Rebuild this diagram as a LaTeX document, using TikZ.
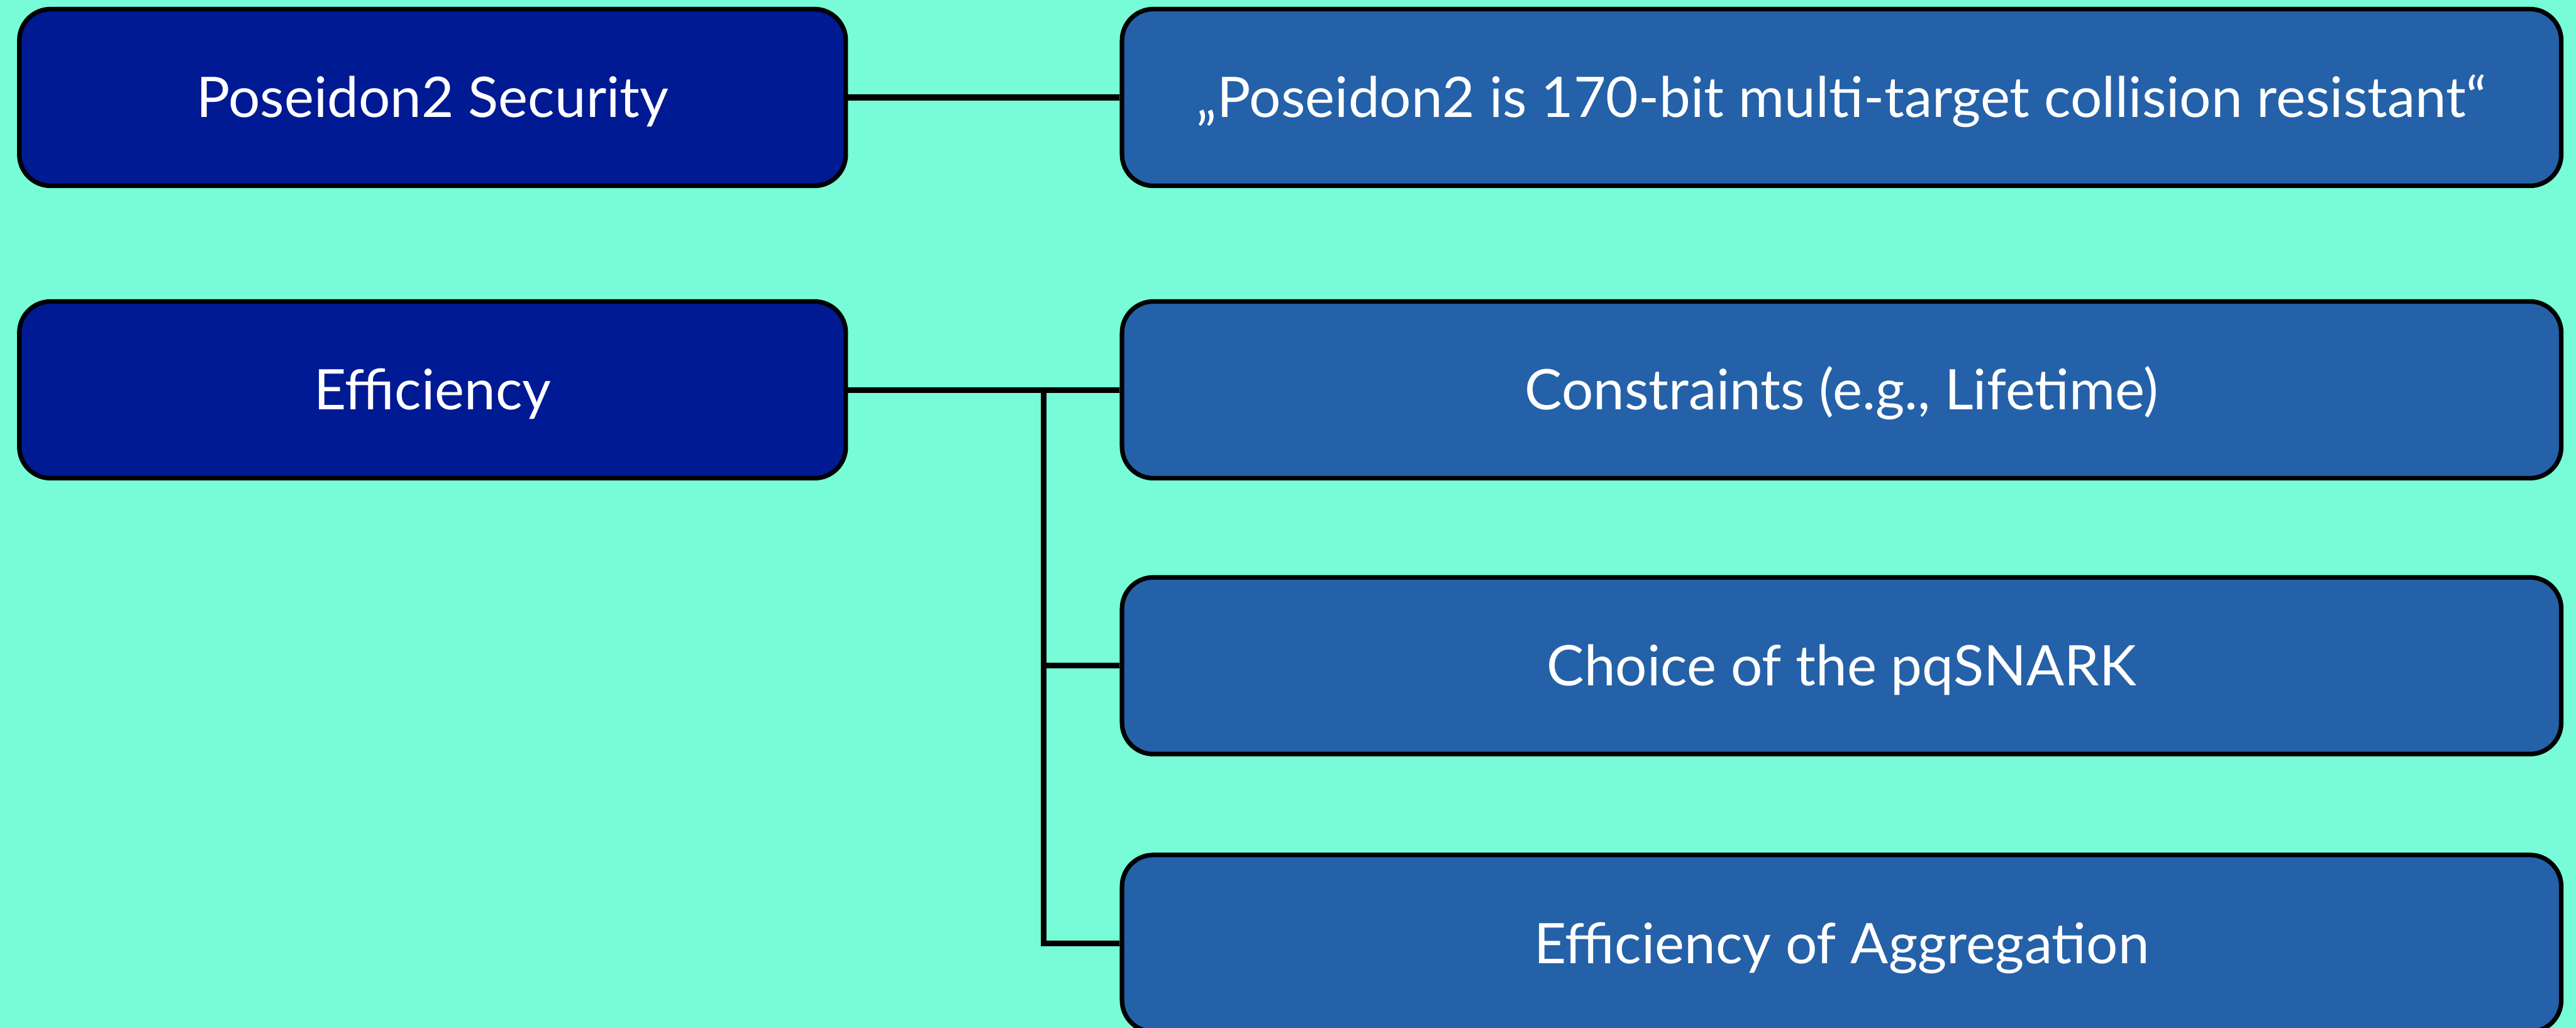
\documentclass[tikz,border=0pt]{standalone}
\usepackage{fontspec}
\setmainfont{Lato}
\usepackage{tikz}
\definecolor{sea}{RGB}{119,252,215}
\definecolor{navy}{RGB}{0,26,147}
\definecolor{steel}{RGB}{36,97,168}

\begin{document}
\begin{tikzpicture}[
    topic/.style={draw=black,line width=0.08cm,rounded corners=0.55cm,fill=navy,
      text=white,minimum width=14.54cm,minimum height=3.11cm,
      text height=20pt,text depth=0pt,
      font=\fontsize{28}{34}\selectfont},
    item/.style={topic,fill=steel,minimum width=25.32cm},
    link/.style={line width=0.1cm}]
\useasboundingbox (0,0) rectangle (45.32,-18.09);
\fill[sea] (0,0) rectangle (45.32,-18.09);
\node[topic] (sec) at (7.61,-1.715) {Poseidon2 Security};
\node[item] (claim) at (32.40,-1.715) {„Poseidon2 is 170-bit multi-target collision resistant“};
\node[topic] (eff) at (7.61,-6.86) {Efficiency};
\node[item] (cons) at (32.40,-6.86) {Constraints (e.g., Lifetime)};
\node[item] (snark) at (32.40,-11.715) {Choice of the pqSNARK};
\node[item] (aggr) at (32.40,-16.60) {Efficiency of Aggregation};
\coordinate (fork) at (18.36,-6.86);
\draw[link] (sec) -- (claim);
\draw[link] (eff) -- (cons);
\draw[link] (fork) |- (snark);
\draw[link] (fork) |- (aggr);
\end{tikzpicture}
\end{document}
